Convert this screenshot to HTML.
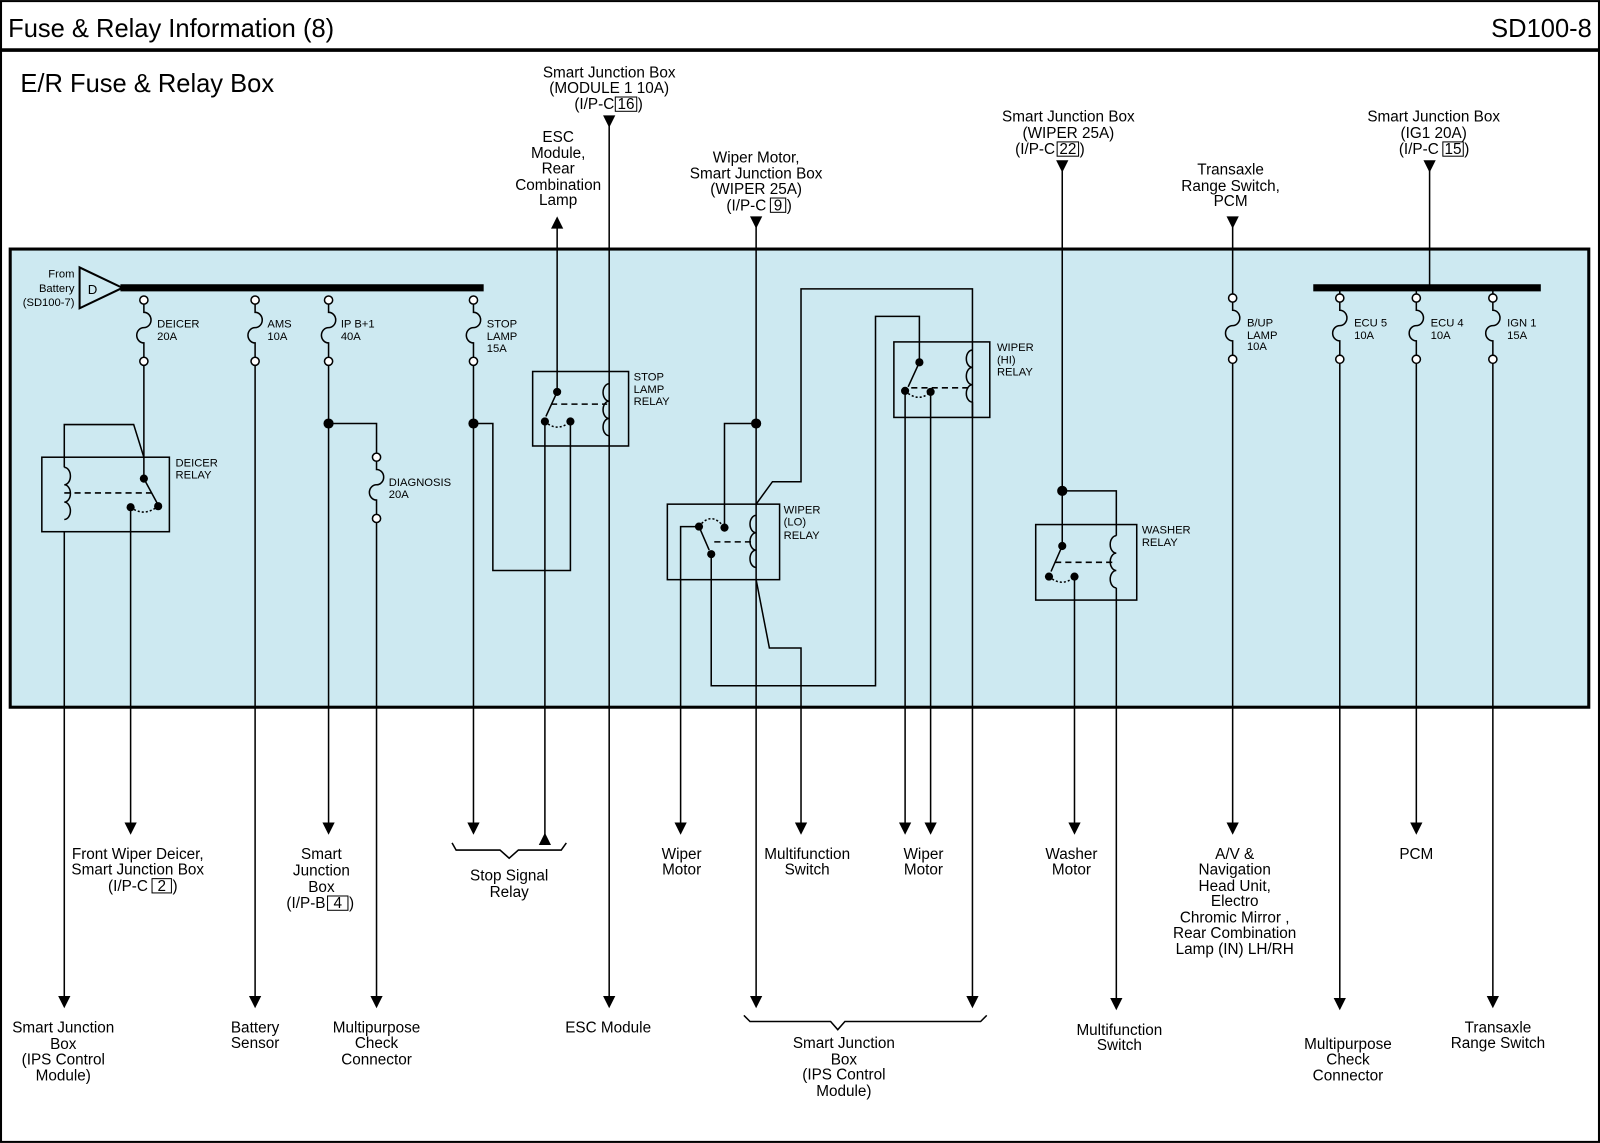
<!DOCTYPE html>
<html><head><meta charset="utf-8"><style>
html,body{margin:0;padding:0;background:#fff}
svg{display:block}
text{font-family:"Liberation Sans",Arial,sans-serif;fill:#000}
.l{font-size:15px;text-anchor:middle}
.s{font-size:11px}
.p{font-size:15px;text-anchor:end}
.n{font-size:15px;text-anchor:middle}
</style></head><body>
<svg width="1600" height="1143" viewBox="0 0 1568 1120" xmlns="http://www.w3.org/2000/svg">
<defs>
<g id="fuse" fill="none" stroke="#000" stroke-width="1.5">
<circle cx="0" cy="0" r="4" fill="#fff"/>
<path d="M0 4 v8 a7 7.5 0 0 1 0 15 a7 7.5 0 0 0 0 15 v14"/>
<circle cx="0" cy="60" r="4" fill="#fff"/>
</g>
<path id="ad" d="M-6 -12 L6 -12 L0 0Z" fill="#000"/>
<path id="au" d="M-6 12 L6 12 L0 0Z" fill="#000"/>
<path id="coilL" d="M0 0 a6 8.5 0 0 0 0 17 a6 8.5 0 0 0 0 17 a6 8.5 0 0 0 0 17" fill="none" stroke="#000" stroke-width="1.5"/>
<path id="coilR" d="M0 0 a6 8.5 0 0 1 0 17 a6 8.5 0 0 1 0 17 a6 8.5 0 0 1 0 17" fill="none" stroke="#000" stroke-width="1.5"/>
</defs>
<rect x="1" y="1" width="1566" height="1118" fill="#fff" stroke="#000" stroke-width="2"/>
<text x="8" y="36" style="font-size:25px">Fuse &amp; Relay Information (8)</text>
<text x="1560" y="36" style="font-size:25px" text-anchor="end">SD100-8</text>
<line x1="0" y1="49" x2="1568" y2="49" stroke="#000" stroke-width="3.5"/>
<text x="20" y="90" style="font-size:25px">E/R Fuse &amp; Relay Box</text>

<rect x="10" y="244" width="1547" height="449" fill="#cde9f1" stroke="#000" stroke-width="3"/>

<polygon points="78,262 78,302 120,282" fill="#cde9f1" stroke="#000" stroke-width="2"/>
<text x="86" y="288" style="font-size:13px">D</text>
<text class="s" x="73" y="272" text-anchor="end">From</text>
<text class="s" x="73" y="286" text-anchor="end">Battery</text>
<text class="s" x="73" y="300" text-anchor="end">(SD100-7)</text>
<line x1="118" y1="282" x2="474" y2="282" stroke="#000" stroke-width="7"/>
<line x1="1287" y1="282" x2="1510" y2="282" stroke="#000" stroke-width="7"/>

<g stroke="#000" stroke-width="1.5" fill="none">
<polyline points="141,356 141,469"/>
<rect x="41" y="448" width="125" height="73"/>
<polyline points="63,458 63,416 131,416 141,448"/>
<line x1="63" y1="521" x2="63" y2="985"/>
<line x1="141" y1="469" x2="154" y2="493"/>
<line x1="63" y1="483" x2="150" y2="483" stroke-dasharray="6,4"/>
<path d="M128 497 Q141 507 155 496" stroke-dasharray="2,2"/>
<line x1="128" y1="497" x2="128" y2="815"/>
<line x1="250" y1="356" x2="250" y2="985"/>
<line x1="322" y1="356" x2="322" y2="815"/>
<polyline points="322,415 369,415 369,444"/>
<line x1="369" y1="512" x2="369" y2="985"/>
<line x1="464" y1="356" x2="464" y2="815"/>
<polyline points="464,415 483,415 483,559 559,559 559,413"/>
<rect x="522" y="364" width="94" height="73"/>
<line x1="546" y1="222" x2="546" y2="384"/>
<line x1="546" y1="384" x2="535" y2="408"/>
<line x1="540" y1="396" x2="595" y2="396" stroke-dasharray="6,4"/>
<path d="M534 413 Q546 424 559 413" stroke-dasharray="2,2"/>
<line x1="534" y1="413" x2="534" y2="827"/>
<line x1="597" y1="120" x2="597" y2="985"/>
<polyline points="443,826 447,833 490,833 499,841 508,833 550,833 555,826"/>
<line x1="741" y1="220" x2="741" y2="985"/>
<rect x="654" y="494" width="110" height="74"/>
<polyline points="741,415 710,415 710,517"/>
<path d="M685 516 Q697 500 710 517" stroke-dasharray="2,2"/>
<line x1="685" y1="516" x2="695" y2="539"/>
<line x1="700" y1="531" x2="740" y2="531" stroke-dasharray="6,4"/>
<polyline points="685,516 667,516 667,815"/>
<polyline points="697,543 697,672 858,672 858,310 901,310 901,355"/>
<polyline points="741,494 757,472 785,472 785,283 953,283 953,985"/>
<polyline points="741,568 754,635 785,635 785,815"/>
<rect x="876" y="335" width="94" height="74"/>
<line x1="901" y1="355" x2="890" y2="379"/>
<line x1="893" y1="380" x2="950" y2="380" stroke-dasharray="6,4"/>
<path d="M887 383 Q900 395 912 384" stroke-dasharray="2,2"/>
<line x1="887" y1="383" x2="887" y2="815"/>
<line x1="912" y1="384" x2="912" y2="815"/>
<polyline points="729,995 735,1001 814,1001 821,1009 828,1001 961,1001 967,995"/>
<line x1="1041" y1="165" x2="1041" y2="535"/>
<polyline points="1041,481 1094,481 1094,525"/>
<rect x="1015" y="514" width="99" height="74"/>
<line x1="1041" y1="535" x2="1030" y2="560"/>
<line x1="1034" y1="551" x2="1092" y2="551" stroke-dasharray="6,4"/>
<path d="M1028 565 Q1041 576 1053 565" stroke-dasharray="2,2"/>
<line x1="1053" y1="565" x2="1053" y2="815"/>
<line x1="1094" y1="576" x2="1094" y2="985"/>
<line x1="1208" y1="220" x2="1208" y2="292"/>
<line x1="1208" y1="352" x2="1208" y2="815"/>
<line x1="1401" y1="165" x2="1401" y2="282"/>
<line x1="1313" y1="352" x2="1313" y2="985"/>
<line x1="1388" y1="352" x2="1388" y2="815"/>
<line x1="1463" y1="352" x2="1463" y2="985"/>
</g>

<use href="#coilR" x="63" y="458"/>
<use href="#coilL" x="597" y="376"/>
<use href="#coilL" x="741" y="505"/>
<use href="#coilL" x="953" y="343"/>
<use href="#coilL" x="1094" y="525"/>
<g stroke="#000" stroke-width="1.5">
<line x1="597" y1="427" x2="597" y2="437"/>
<line x1="953" y1="394" x2="953" y2="409"/>
</g>

<use href="#fuse" x="141" y="294"/>
<use href="#fuse" x="250" y="294"/>
<use href="#fuse" x="322" y="294"/>
<use href="#fuse" x="464" y="294"/>
<use href="#fuse" x="369" y="448"/>
<use href="#fuse" x="1208" y="292"/>
<use href="#fuse" x="1313" y="292"/>
<use href="#fuse" x="1388" y="292"/>
<use href="#fuse" x="1463" y="292"/>
<g stroke="#000" stroke-width="1.5"><line x1="1313" y1="285" x2="1313" y2="288"/><line x1="1388" y1="285" x2="1388" y2="288"/><line x1="1463" y1="285" x2="1463" y2="288"/></g>

<g fill="#000">
<circle cx="141" cy="469" r="4"/><circle cx="155" cy="496" r="4"/><circle cx="128" cy="497" r="4"/>
<circle cx="322" cy="415" r="5"/><circle cx="464" cy="415" r="5"/>
<circle cx="546" cy="384" r="4"/><circle cx="534" cy="413" r="4"/><circle cx="559" cy="413" r="4"/>
<circle cx="741" cy="415" r="5"/>
<circle cx="710" cy="517" r="4"/><circle cx="685" cy="516" r="4"/><circle cx="697" cy="543" r="4"/>
<circle cx="901" cy="355" r="4"/><circle cx="887" cy="383" r="4"/><circle cx="912" cy="384" r="4"/>
<circle cx="1041" cy="481" r="5"/><circle cx="1041" cy="535" r="4"/><circle cx="1028" cy="565" r="4"/><circle cx="1053" cy="565" r="4"/>
</g>

<use href="#ad" x="597" y="125"/>
<use href="#au" x="546" y="212"/>
<use href="#ad" x="741" y="224"/>
<use href="#ad" x="1041" y="169"/>
<use href="#ad" x="1208" y="224"/>
<use href="#ad" x="1401" y="169"/>
<use href="#ad" x="128" y="818"/>
<use href="#ad" x="322" y="818"/>
<use href="#ad" x="464" y="818"/>
<use href="#au" x="534" y="816"/>
<use href="#ad" x="667" y="818"/>
<use href="#ad" x="785" y="818"/>
<use href="#ad" x="887" y="818"/>
<use href="#ad" x="912" y="818"/>
<use href="#ad" x="1053" y="818"/>
<use href="#ad" x="1208" y="818"/>
<use href="#ad" x="1388" y="818"/>
<use href="#ad" x="63" y="988"/>
<use href="#ad" x="250" y="988"/>
<use href="#ad" x="369" y="988"/>
<use href="#ad" x="597" y="988"/>
<use href="#ad" x="741" y="988"/>
<use href="#ad" x="953" y="988"/>
<use href="#ad" x="1094" y="990"/>
<use href="#ad" x="1313" y="990"/>
<use href="#ad" x="1463" y="988"/>

<g class="s">
<text x="154" y="321">DEICER</text><text x="154" y="333">20A</text>
<text x="262" y="321">AMS</text><text x="262" y="333">10A</text>
<text x="334" y="321">IP B+1</text><text x="334" y="333">40A</text>
<text x="477" y="321">STOP</text><text x="477" y="333">LAMP</text><text x="477" y="345">15A</text>
<text x="381" y="476">DIAGNOSIS</text><text x="381" y="488">20A</text>
<text x="172" y="457">DEICER</text><text x="172" y="469">RELAY</text>
<text x="621" y="373">STOP</text><text x="621" y="385">LAMP</text><text x="621" y="397">RELAY</text>
<text x="768" y="503">WIPER</text><text x="768" y="515">(LO)</text><text x="768" y="528">RELAY</text>
<text x="977" y="344">WIPER</text><text x="977" y="356">(HI)</text><text x="977" y="368">RELAY</text>
<text x="1119" y="523">WASHER</text><text x="1119" y="535">RELAY</text>
<text x="1222" y="320">B/UP</text><text x="1222" y="332">LAMP</text><text x="1222" y="343">10A</text>
<text x="1327" y="320">ECU 5</text><text x="1327" y="332">10A</text>
<text x="1402" y="320">ECU 4</text><text x="1402" y="332">10A</text>
<text x="1477" y="320">IGN 1</text><text x="1477" y="332">15A</text>
</g>

<g class="l">
<text x="597" y="76">Smart Junction Box</text><text x="597" y="91">(MODULE 1 10A)</text>
<text x="547" y="139">ESC</text><text x="547" y="155">Module,</text><text x="547" y="170">Rear</text><text x="547" y="186">Combination</text><text x="547" y="201">Lamp</text>
<text x="741" y="159">Wiper Motor,</text><text x="741" y="175">Smart Junction Box</text><text x="741" y="190">(WIPER 25A)</text>
<text x="1047" y="119">Smart Junction Box</text><text x="1047" y="135">(WIPER 25A)</text>
<text x="1206" y="171">Transaxle</text><text x="1206" y="187">Range Switch,</text><text x="1206" y="202">PCM</text>
<text x="1405" y="119">Smart Junction Box</text><text x="1405" y="135">(IG1 20A)</text>
</g>
<g>
<text class="p" x="602" y="107">(I/P-C</text><text class="n" x="613.5" y="107">16</text><text x="625" y="107" style="font-size:15px">)</text>
<text class="p" x="751" y="206">(I/P-C</text><text class="n" x="762.5" y="206">9</text><text x="771" y="206" style="font-size:15px">)</text>
<text class="p" x="1034" y="151">(I/P-C</text><text class="n" x="1046.5" y="151">22</text><text x="1058" y="151" style="font-size:15px">)</text>
<text class="p" x="1410" y="151">(I/P-C</text><text class="n" x="1424" y="151">15</text><text x="1435" y="151" style="font-size:15px">)</text>
<text class="p" x="145" y="873">(I/P-C</text><text class="n" x="158.5" y="873">2</text><text x="169" y="873" style="font-size:15px">)</text>
<text class="p" x="319" y="890">(I/P-B</text><text class="n" x="331" y="890">4</text><text x="342" y="890" style="font-size:15px">)</text>
</g>
<g fill="none" stroke="#000" stroke-width="1">
<rect x="603" y="95" width="21" height="14"/>
<rect x="755" y="194" width="15" height="14"/>
<rect x="1036" y="139" width="21" height="14"/>
<rect x="1414" y="139" width="20" height="14"/>
<rect x="149" y="861" width="19" height="14"/>
<rect x="321" y="878" width="20" height="14"/>
</g>

<g class="l">
<text x="135" y="842">Front Wiper Deicer,</text><text x="135" y="857">Smart Junction Box</text>
<text x="315" y="842">Smart</text><text x="315" y="858">Junction</text><text x="315" y="874">Box</text>
<text x="499" y="863">Stop Signal</text><text x="499" y="879">Relay</text>
<text x="668" y="842">Wiper</text><text x="668" y="857">Motor</text>
<text x="791" y="842">Multifunction</text><text x="791" y="857">Switch</text>
<text x="905" y="842">Wiper</text><text x="905" y="857">Motor</text>
<text x="1050" y="842">Washer</text><text x="1050" y="857">Motor</text>
<text x="1210" y="842">A/V &amp;</text><text x="1210" y="857">Navigation</text><text x="1210" y="873">Head Unit,</text><text x="1210" y="888">Electro</text><text x="1210" y="904">Chromic Mirror ,</text><text x="1210" y="919">Rear Combination</text><text x="1210" y="935">Lamp (IN) LH/RH</text>
<text x="1388" y="842">PCM</text>
<text x="62" y="1012">Smart Junction</text><text x="62" y="1028">Box</text><text x="62" y="1043">(IPS Control</text><text x="62" y="1059">Module)</text>
<text x="250" y="1012">Battery</text><text x="250" y="1027">Sensor</text>
<text x="369" y="1012">Multipurpose</text><text x="369" y="1027">Check</text><text x="369" y="1043">Connector</text>
<text x="596" y="1012">ESC Module</text>
<text x="827" y="1027">Smart Junction</text><text x="827" y="1043">Box</text><text x="827" y="1058">(IPS Control</text><text x="827" y="1074">Module)</text>
<text x="1097" y="1014">Multifunction</text><text x="1097" y="1029">Switch</text>
<text x="1321" y="1028">Multipurpose</text><text x="1321" y="1043">Check</text><text x="1321" y="1059">Connector</text>
<text x="1468" y="1012">Transaxle</text><text x="1468" y="1027">Range Switch</text>
</g>
</svg>
</body></html>
